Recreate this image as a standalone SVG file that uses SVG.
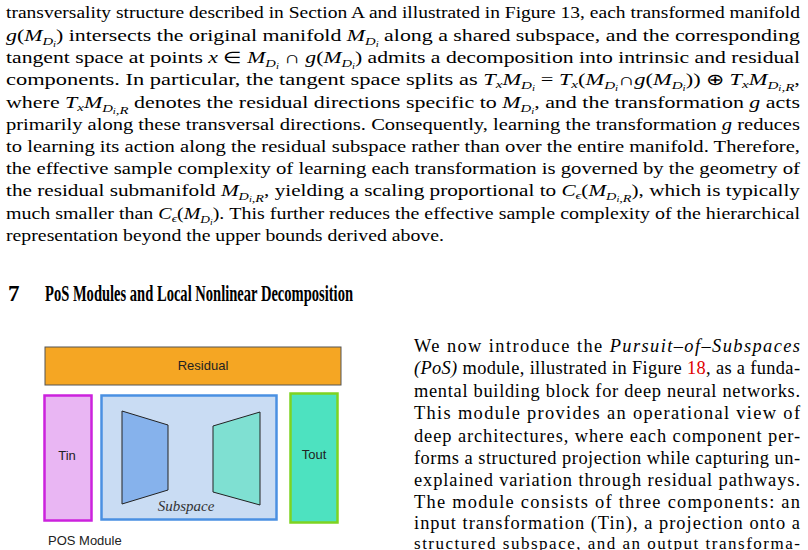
<svg xmlns="http://www.w3.org/2000/svg" width="808" height="550" viewBox="0 0 808 550">
<style>
.t{font-family:"Liberation Serif",serif;font-size:16.4px;fill:#000}
.c{font-family:"Liberation Serif",serif;font-size:18.4px;fill:#000}
.i{font-style:italic}
.s{font-size:11px;font-style:italic}
.h{font-family:"Liberation Serif",serif;font-size:23px;font-weight:bold}
.f{font-family:"Liberation Sans",Arial,sans-serif;font-size:13px;fill:#222}
</style>
<rect width="808" height="550" fill="#fff"/>
<g id="body" class="t">
<text x="6" y="18" textLength="794" lengthAdjust="spacingAndGlyphs">transversality structure described in Section A and illustrated in Figure  13, each transformed manifold</text>
<text x="6" y="41" textLength="794" lengthAdjust="spacingAndGlyphs"><tspan class="i">g</tspan>(<tspan class="i">M</tspan><tspan class="s" dy="4">D<tspan font-size="8" dy="2">i</tspan></tspan><tspan dy="-6">) intersects the original manifold </tspan><tspan class="i">M</tspan><tspan class="s" dy="4">D<tspan font-size="8" dy="2">i</tspan></tspan><tspan dy="-6"> along a shared subspace, and the corresponding</tspan></text>
<text x="6" y="63" textLength="794" lengthAdjust="spacingAndGlyphs">tangent space at points <tspan class="i">x</tspan> ∈ <tspan class="i">M</tspan><tspan class="s" dy="4">D<tspan font-size="8" dy="2">i</tspan></tspan><tspan dy="-6"> ∩ </tspan><tspan class="i">g</tspan>(<tspan class="i">M</tspan><tspan class="s" dy="4">D<tspan font-size="8" dy="2">i</tspan></tspan><tspan dy="-6">) admits a decomposition into intrinsic and residual</tspan></text>
<text x="6" y="85" textLength="794" lengthAdjust="spacingAndGlyphs">components. In particular, the tangent space splits as <tspan class="i">T</tspan><tspan class="s" dy="3">x</tspan><tspan class="i" dy="-3">M</tspan><tspan class="s" dy="4">D<tspan font-size="8" dy="2">i</tspan></tspan><tspan dy="-6"> = </tspan><tspan class="i">T</tspan><tspan class="s" dy="3">x</tspan><tspan dy="-3">(</tspan><tspan class="i">M</tspan><tspan class="s" dy="4">D<tspan font-size="8" dy="2">i</tspan></tspan><tspan dy="-6">∩</tspan><tspan class="i">g</tspan>(<tspan class="i">M</tspan><tspan class="s" dy="4">D<tspan font-size="8" dy="2">i</tspan></tspan><tspan dy="-6">)) ⊕ </tspan><tspan class="i">T</tspan><tspan class="s" dy="3">x</tspan><tspan class="i" dy="-3">M</tspan><tspan class="s" dy="4">D<tspan font-size="8" dy="2">i</tspan>,R</tspan><tspan dy="-6">,</tspan></text>
<text x="6" y="108" textLength="794" lengthAdjust="spacingAndGlyphs">where <tspan class="i">T</tspan><tspan class="s" dy="3">x</tspan><tspan class="i" dy="-3">M</tspan><tspan class="s" dy="4">D<tspan font-size="8" dy="2">i</tspan>,R</tspan><tspan dy="-6"> denotes the residual directions specific to </tspan><tspan class="i">M</tspan><tspan class="s" dy="4">D<tspan font-size="8" dy="2">i</tspan></tspan><tspan dy="-6">, and the transformation </tspan><tspan class="i">g</tspan> acts</text>
<text x="6" y="130" textLength="794" lengthAdjust="spacingAndGlyphs">primarily along these transversal directions. Consequently, learning the transformation <tspan class="i">g</tspan> reduces</text>
<text x="6" y="152" textLength="794" lengthAdjust="spacingAndGlyphs">to learning its action along the residual subspace rather than over the entire manifold. Therefore,</text>
<text x="6" y="174" textLength="794" lengthAdjust="spacingAndGlyphs">the effective sample complexity of learning each transformation is governed by the geometry of</text>
<text x="6" y="196" textLength="794" lengthAdjust="spacingAndGlyphs">the residual submanifold <tspan class="i">M</tspan><tspan class="s" dy="4">D<tspan font-size="8" dy="2">i</tspan>,R</tspan><tspan dy="-6">, yielding a scaling proportional to </tspan><tspan class="i">C</tspan><tspan class="s" dy="3">ϵ</tspan><tspan dy="-3">(</tspan><tspan class="i">M</tspan><tspan class="s" dy="4">D<tspan font-size="8" dy="2">i</tspan>,R</tspan><tspan dy="-6">), which is typically</tspan></text>
<text x="6" y="219" textLength="794" lengthAdjust="spacingAndGlyphs">much smaller than <tspan class="i">C</tspan><tspan class="s" dy="3">ϵ</tspan><tspan dy="-3">(</tspan><tspan class="i">M</tspan><tspan class="s" dy="4">D<tspan font-size="8" dy="2">i</tspan></tspan><tspan dy="-6">). This further reduces the effective sample complexity of the hierarchical</tspan></text>
<text x="6" y="241" textLength="438" lengthAdjust="spacingAndGlyphs">representation beyond the upper bounds derived above.</text>
</g>
<g id="heading" class="h">
<text x="8" y="301">7</text>
<text x="45" y="301" textLength="308" lengthAdjust="spacingAndGlyphs">PoS Modules and Local Nonlinear Decomposition</text>
</g>
<g id="col" class="c">
<text x="414" y="352" textLength="386" lengthAdjust="spacing">We now introduce the <tspan class="i">Pursuit–of–Subspaces</tspan></text>
<text x="414" y="374" textLength="386" lengthAdjust="spacing"><tspan class="i">(PoS)</tspan> module, illustrated in Figure <tspan fill="#e00000">18</tspan>, as a funda-</text>
<text x="414" y="397" textLength="386" lengthAdjust="spacing">mental building block for deep neural networks.</text>
<text x="414" y="419" textLength="386" lengthAdjust="spacing">This module provides an operational view of</text>
<text x="414" y="442" textLength="386" lengthAdjust="spacing">deep architectures, where each component per-</text>
<text x="414" y="464" textLength="386" lengthAdjust="spacing">forms a structured projection while capturing un-</text>
<text x="414" y="486" textLength="386" lengthAdjust="spacing">explained variation through residual pathways.</text>
<text x="414" y="508" textLength="386" lengthAdjust="spacing">The module consists of three components: an</text>
<text x="414" y="529" textLength="386" lengthAdjust="spacing">input transformation (Tin), a projection onto a</text>
<text x="414" y="549" textLength="386" lengthAdjust="spacing" font-size="17">structured subspace, and an output transforma-</text>
</g>
<g id="residual">
<rect x="45" y="347" width="296" height="38" fill="#f5a623" stroke="#555" stroke-width="1"/>
<text class="f" x="203" y="370" text-anchor="middle">Residual</text>
</g>
<g id="tin">
<rect x="44.5" y="395.5" width="47" height="125" fill="#e9b6f3" stroke="#cc22dd" stroke-width="2.5"/>
<text class="f" x="67" y="460" text-anchor="middle">Tin</text>
</g>
<g id="subspace">
<rect x="101.5" y="395.5" width="175" height="124" fill="#c9dcf3" stroke="#4a90e2" stroke-width="2.5"/>
<polygon points="122,411 168,425 168,490 122,504" fill="#86b2ec" stroke="#222" stroke-width="1"/>
<polygon points="213,426 260,412 260,505 213,492" fill="#7fe0d2" stroke="#222" stroke-width="1"/>
<text x="186" y="511" text-anchor="middle" font-family="Liberation Serif,serif" font-style="italic" font-size="15" fill="#333">Subspace</text>
</g>
<g id="tout">
<rect x="290.5" y="393.5" width="47" height="129" fill="#4de2c0" stroke="#7ed321" stroke-width="2.5"/>
<text class="f" x="314" y="459" text-anchor="middle">Tout</text>
</g>
<text class="f" x="48" y="545">POS Module</text>
<g id="connectors"/>
</svg>
